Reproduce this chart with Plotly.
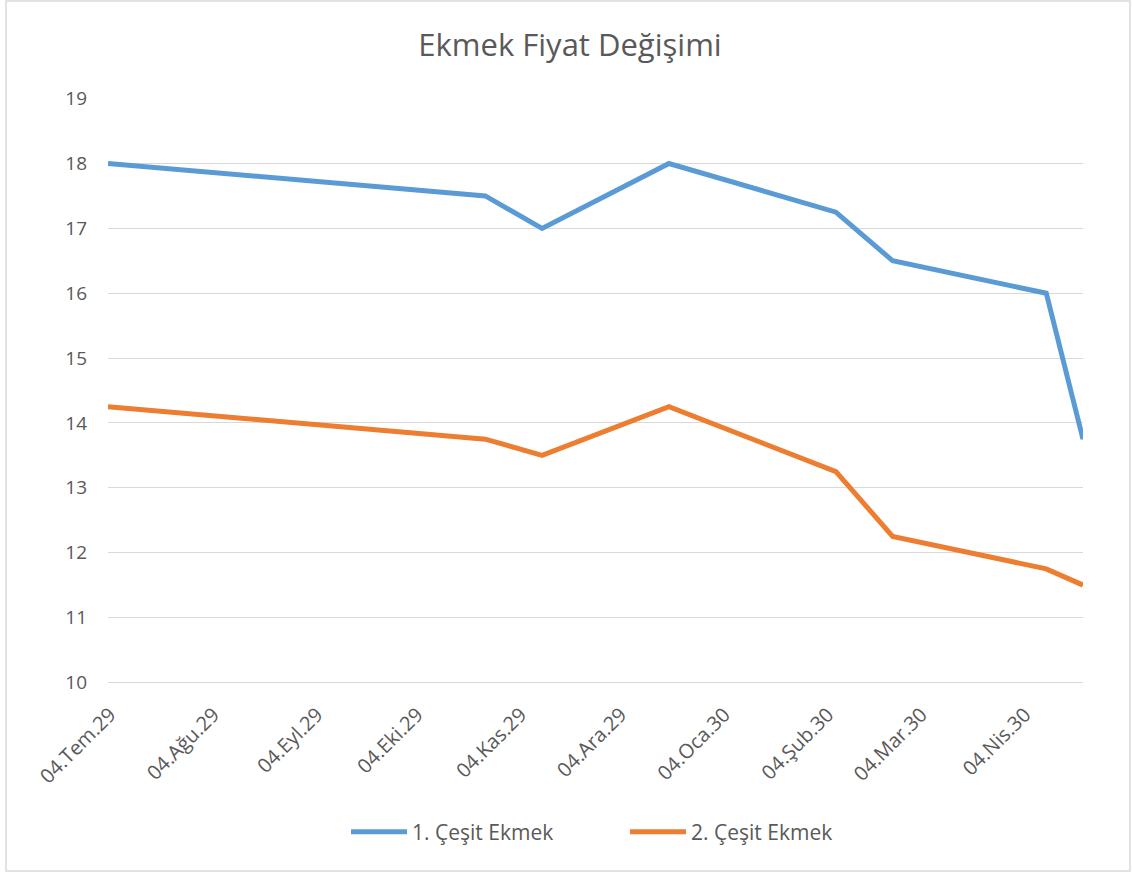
import plotly.graph_objects as go

dates = ["1929-07-04", "1929-10-25", "1929-11-11", "1929-12-19",
         "1930-02-07", "1930-02-24", "1930-04-11", "1930-04-22"]
cesit1 = [18, 17.5, 17, 18, 17.25, 16.5, 16, 13.75]
cesit2 = [14.25, 13.75, 13.5, 14.25, 13.25, 12.25, 11.75, 11.5]

tick_vals = ["1929-07-04", "1929-08-04", "1929-09-04", "1929-10-04", "1929-11-04",
             "1929-12-04", "1930-01-04", "1930-02-04", "1930-03-04", "1930-04-04"]
tick_text = ["04.Tem.29", "04.Ağu.29", "04.Eyl.29", "04.Eki.29", "04.Kas.29",
             "04.Ara.29", "04.Oca.30", "04.Şub.30", "04.Mar.30", "04.Nis.30"]

font_fam = "Open Sans, Noto Sans, sans-serif"
gray = "#595959"

L, R, T, B = 108, 1083, 98, 684
W, H = 1132, 874
pw, ph = R - L, B - T

fig = go.Figure()
fig.add_trace(go.Scatter(x=dates, y=cesit1, mode="lines", name="1. Çeşit Ekmek",
                         line=dict(color="#5B9BD5", width=5)))
fig.add_trace(go.Scatter(x=dates, y=cesit2, mode="lines", name="2. Çeşit Ekmek",
                         line=dict(color="#ED7D31", width=5)))

fig.update_layout(
    width=W, height=H,
    margin=dict(l=L, r=W - R, t=T, b=H - B),
    paper_bgcolor="white", plot_bgcolor="white",
    title=dict(text="Ekmek Fiyat Değişimi", x=(570 - L) / pw, xref="paper",
               xanchor="center", y=1 - 45 / H, yanchor="middle",
               font=dict(family=font_fam, size=31, color=gray)),
    font=dict(family=font_fam, size=18, color=gray),
    showlegend=True,
    legend=dict(orientation="h", x=(346 - L) / pw, xanchor="left",
                y=(B - 832) / ph, yanchor="middle", entrywidth=208,
                font=dict(size=21, color=gray), itemwidth=56, tracegroupgap=0),
    xaxis=dict(type="date", range=["1929-07-04", "1930-04-22"],
               tickvals=tick_vals, ticktext=tick_text, tickangle=-45,
               showgrid=False, zeroline=False, showline=False, ticks="",
               ticklabelstandoff=14, ticklabelshift=2,
               tickfont=dict(size=20, color=gray)),
    yaxis=dict(range=[9.975, 19.01], dtick=1, tick0=10, showgrid=True,
               gridcolor="#D9D9D9", gridwidth=1.3, zeroline=False, showline=False,
               ticks="", ticklabelstandoff=20,
               tickfont=dict(size=19, color=gray)),
)

fig.add_shape(type="rect", xref="paper", yref="paper",
              x0=(6 - L) / pw, x1=(1130 - L) / pw,
              y0=(B - 871) / ph, y1=(B - 1) / ph,
              line=dict(color="#D9D9D9", width=1.5), fillcolor="rgba(0,0,0,0)",
              layer="below")

fig.write_html("out.html", config={"displayModeBar": False},
               post_script="document.body.style.margin='0px';document.body.style.padding='0px';")
